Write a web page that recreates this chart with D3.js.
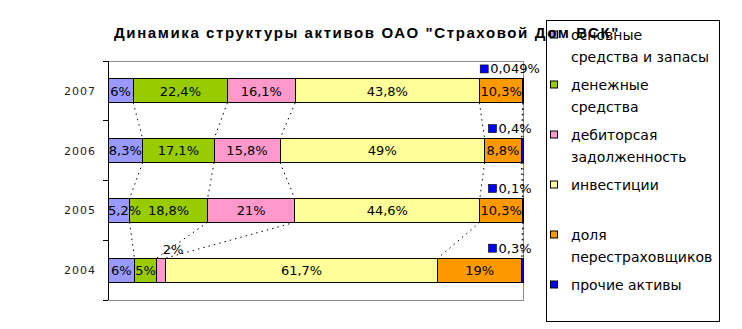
<!DOCTYPE html>
<html>
<head>
<meta charset="utf-8">
<script src="https://cdn.jsdelivr.net/npm/d3@7"></script>
<style>
  html, body { margin: 0; padding: 0; background: #fff; }
  svg { display: block; }
</style>
</head>
<body>
<svg id="chart" width="742" height="329"></svg>
<script>
// Years, listed top to bottom as the bars appear
const years = ["2007", "2006", "2005", "2004"];

// Share of each asset group, % (the stack is normalised to 100%)
const fixedAssets  = [6, 8.3, 5.2, 6];
const cash         = [22.4, 17.1, 18.8, 5];
const receivables  = [16.1, 15.8, 21, 2];
const investments  = [43.8, 49, 44.6, 61.7];
const reinsurers   = [10.3, 8.8, 10.3, 19];
const otherAssets  = [0.049, 0.4, 0.1, 0.3];

const seriesNames = [
  "основные\nсредства и запасы",
  "денежные\nсредства",
  "дебиторсая\nзадолженность",
  "инвестиции",
  "доля\nперестраховщиков",
  "прочие активы"
];
const seriesColors = ["#9999FF", "#99CC00", "#FF99CC", "#FFFF99", "#FF9900", "#0000FF"];
const seriesValues = [fixedAssets, cash, receivables, investments, reinsurers, otherAssets];

const title = "Динамика структуры активов ОАО \"Страховой Дом ВСК\"";

// ---- layout ----
const svg = d3.select("#chart");
const plot = { left: 108, right: 523, top: 61, bottom: 300 };

const keys = seriesNames.map((_, i) => "s" + i);
const rows = years.map((year, r) => {
  const row = { year };
  keys.forEach((k, i) => { row[k] = seriesValues[i][r]; });
  return row;
});

const stacked = d3.stack().keys(keys).offset(d3.stackOffsetExpand)(rows);

const x = d3.scaleLinear().domain([0, 1]).range([plot.left, plot.right]);
const y = d3.scaleBand().domain(years).range([plot.top, plot.bottom])
  .paddingInner(0.6).paddingOuter(0.3);

const ru = d3.formatLocale({ decimal: ",", thousands: " ", grouping: [3], currency: ["", " ₽"] });
const fmt = v => ru.format("")(v) + "%";

// plot-area frame
svg.append("rect")
  .attr("x", plot.left).attr("y", plot.top)
  .attr("width", plot.right - plot.left).attr("height", plot.bottom - plot.top)
  .attr("fill", "none").attr("stroke", "#8c8c8c").attr("stroke-width", 1)
  .attr("shape-rendering", "crispEdges");

// series lines joining the segment edges of neighbouring bars
const seriesLines = svg.append("g")
  .attr("fill", "none").attr("stroke", "#000").attr("stroke-width", 1)
  .attr("stroke-dasharray", "1.5,4");
stacked.forEach(layer => {
  for (let r = 0; r < years.length - 1; r++) {
    const a = layer[r], b = layer[r + 1];
    seriesLines.append("line")
      .attr("x1", x(a[1])).attr("y1", y(years[r]) + y.bandwidth())
      .attr("x2", x(b[1])).attr("y2", y(years[r + 1]));
  }
});

// bars
const layers = svg.append("g").selectAll("g").data(stacked).join("g")
  .attr("fill", (d, i) => seriesColors[i]);
layers.selectAll("rect").data(d => d).join("rect")
  .attr("x", d => x(d[0]))
  .attr("y", d => y(d.data.year))
  .attr("width", d => Math.max(0, x(d[1]) - x(d[0])))
  .attr("height", y.bandwidth())
  .attr("stroke", "#000").attr("stroke-width", 1)
  .attr("shape-rendering", "crispEdges");

// value labels
const labelFont = "13px 'DejaVu Sans', sans-serif";
const labels = svg.append("g").style("font", labelFont).attr("fill", "#000");
const lastIndex = stacked.length - 1;
stacked.forEach((layer, i) => {
  layer.forEach(d => {
    const value = seriesValues[i][years.indexOf(d.data.year)];
    const x0 = x(d[0]), x1 = x(d[1]);
    const top = y(d.data.year);
    if (i === lastIndex) {
      // tiny end segment: legend key plus value above the bar
      const g = labels.append("g");
      const t = g.append("text").attr("x", 10).attr("y", 0).attr("dy", "0.35em").text(fmt(value));
      const w = 10 + t.node().getComputedTextLength();
      g.append("rect").attr("x", 0).attr("y", -4).attr("width", 8).attr("height", 8)
        .attr("fill", seriesColors[i]).attr("stroke", "#000").attr("stroke-width", 0.6);
      g.attr("transform", `translate(${x1 - 13 - w / 2},${top - 10})`);
      return;
    }
    const t = labels.append("text").attr("text-anchor", "middle").text(fmt(value));
    const w = t.node().getComputedTextLength();
    if (x1 - x0 < 12) {
      // too narrow to hold its label: lift it above the bar
      t.attr("x", (x0 + x1) / 2 + 12).attr("y", top - 4);
    } else {
      const cx = Math.max((x0 + x1) / 2, plot.left + w / 2);
      t.attr("x", cx).attr("y", top + y.bandwidth() / 2).attr("dy", "0.36em");
    }
  });
});

// category axis
const axis = svg.append("g").attr("stroke", "#000").attr("shape-rendering", "crispEdges");
axis.append("line").attr("x1", plot.left).attr("x2", plot.left)
  .attr("y1", plot.top).attr("y2", plot.bottom);
d3.range(years.length + 1).forEach(k => {
  const ty = plot.top + k * y.step();
  axis.append("line").attr("x1", plot.left - 5).attr("x2", plot.left)
    .attr("y1", ty).attr("y2", ty);
});
svg.append("g").style("font", "11px 'DejaVu Sans', sans-serif").attr("fill", "#222")
  .selectAll("text").data(years).join("text")
  .attr("x", 96).attr("y", d => y(d) + y.bandwidth() / 2).attr("dy", "0.36em")
  .attr("text-anchor", "end").attr("letter-spacing", "1px")
  .text(d => d);

// legend
const legend = svg.append("g");
legend.append("rect").attr("x", 546.5).attr("y", 20.5).attr("width", 173).attr("height", 301)
  .attr("fill", "#fff").attr("stroke", "#000").attr("stroke-width", 1);
seriesNames.forEach((name, i) => {
  const cy = 34.5 + i * 50;
  legend.append("rect").attr("x", 550.5).attr("y", cy - 3.5).attr("width", 7).attr("height", 7)
    .attr("fill", seriesColors[i]).attr("stroke", "#000").attr("stroke-width", 1);
  const t = legend.append("text").attr("x", 571).attr("y", cy).attr("dy", "0.36em")
    .style("font", "14px 'DejaVu Sans', sans-serif").attr("fill", "#000");
  name.split("\n").forEach((line, j) => {
    t.append("tspan").attr("x", 571).attr("dy", j === 0 ? "0.36em" : "22px").text(line);
  });
});

// title, drawn last so it runs over the legend box
svg.append("text").attr("x", 367).attr("y", 38)
  .attr("text-anchor", "middle")
  .attr("letter-spacing", "1.6px")
  .style("font", "bold 15px 'Liberation Sans', Arial, sans-serif")
  .attr("fill", "#000")
  .text(title);
</script>
</body>
</html>
